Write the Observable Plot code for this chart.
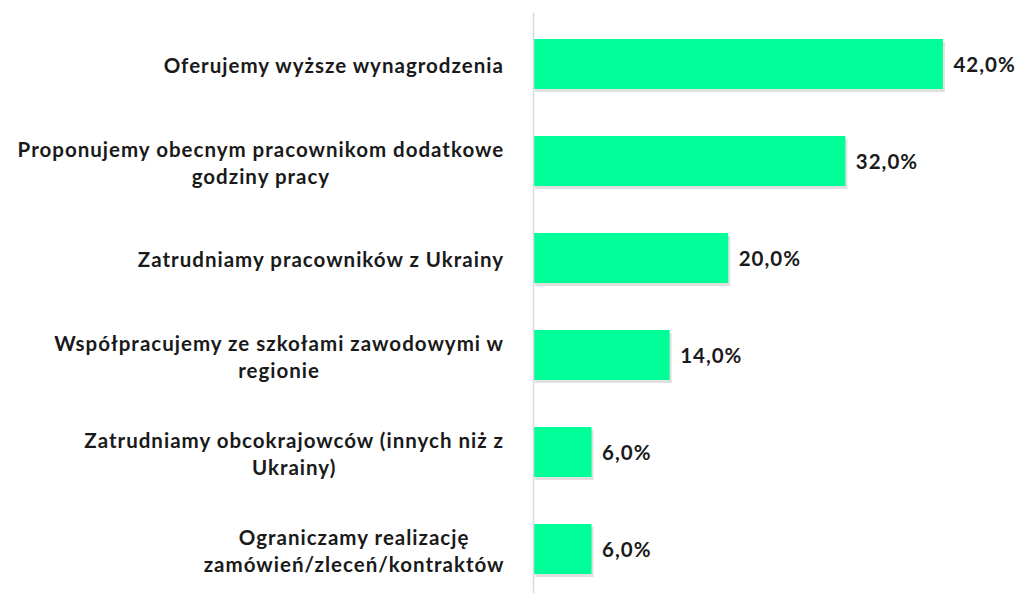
<!DOCTYPE html>
<html>
<head>
<meta charset="utf-8">
<script src="https://cdn.jsdelivr.net/npm/d3@7"></script>
<script src="https://cdn.jsdelivr.net/npm/@observablehq/plot@0.6"></script>
<style>
  html, body { margin: 0; padding: 0; background: #fff; }
  #chart { width: 1020px; height: 593px; overflow: hidden; }
  #chart svg text { letter-spacing: 1px; }
</style>
</head>
<body>
<div id="chart"></div>
<script>
const categories = [
  "Oferujemy wyższe wynagrodzenia",
  "Proponujemy obecnym pracownikom dodatkowe\ngodziny pracy",
  "Zatrudniamy pracowników z Ukrainy",
  "Współpracujemy ze szkołami zawodowymi w\nregionie",
  "Zatrudniamy obcokrajowców (innych niż z\nUkrainy)",
  "Ograniczamy realizację\nzamówień/zleceń/kontraktów"
];
const values = [42.0, 32.0, 20.0, 14.0, 6.0, 6.0];

const data = categories.map((c, i) => ({category: c, value: values[i]}));

const fontSize = 20.5;
const fontFamily = "Lato, 'Open Sans', sans-serif";
const ctx = document.createElement("canvas").getContext("2d");
ctx.font = `bold ${fontSize}px ${fontFamily}`;
const lineWidth = l => ctx.measureText(l).width + l.length * 1;
const blockWidth = c => Math.max(...c.split("\n").map(lineWidth));
const fmt = v => v.toFixed(1).replace(".", ",") + "%";

const chart = Plot.plot({
  width: 1020,
  height: 593,
  marginTop: 13,
  marginBottom: 0,
  marginLeft: 533,
  marginRight: 0,
  style: {background: "#fff", overflow: "visible"},
  x: {domain: [0, 50], range: [533, 1021], axis: null},
  y: {domain: categories, range: [13.7, 599.3], paddingInner: 0.48, paddingOuter: 0.24, axis: null},
  marks: [
    Plot.barX(data, {y: "category", x: "value", fill: "#999", fillOpacity: 0.3, dx: 2, dy: 3}),
    Plot.barX(data, {y: "category", x: "value", fill: "#00FF99"}),
    Plot.ruleX([0], {stroke: "#d9d9d9", strokeWidth: 1.5}),
    ...data.map(d => Plot.text([d], {
      x: () => 0, y: "category", text: "category",
      textAnchor: "middle", lineHeight: 1.32,
      dx: -(29 + blockWidth(d.category) / 2),
      fontSize, fontWeight: "bold", fontFamily,
      fill: "#1a1a1a"
    })),
    Plot.text(data, {
      x: "value", y: "category", text: d => fmt(d.value),
      textAnchor: "start", dx: 10, dy: 1,
      fontSize, fontWeight: "bold", fontFamily,
      fill: "#1a1a1a"
    })
  ]
});
document.getElementById("chart").appendChild(chart);
</script>
</body>
</html>
